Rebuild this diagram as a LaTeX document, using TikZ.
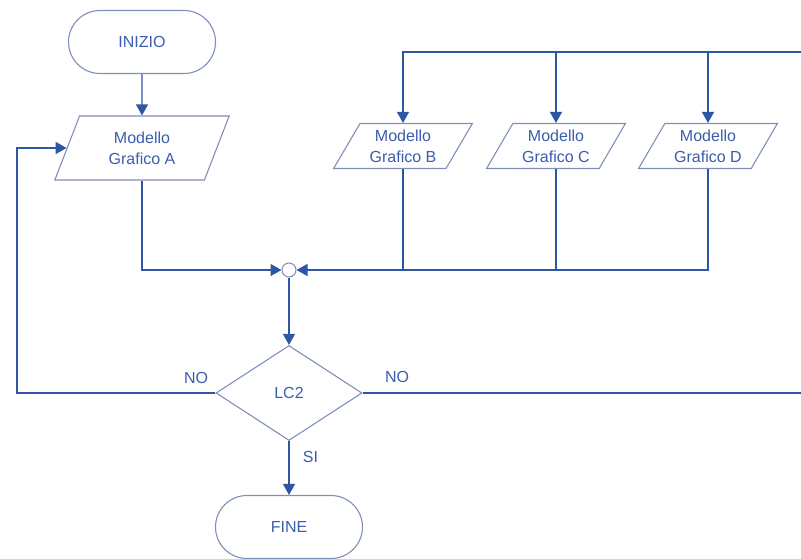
\documentclass[tikz,border=0pt]{standalone}
\usepackage{fontspec}
\setmainfont{Liberation Sans}
\usepackage{tikz}
\usetikzlibrary{arrows.meta,positioning,shapes.geometric,shapes.misc,calc}
\definecolor{fcline}{HTML}{2F55A5}
\definecolor{fcedge}{HTML}{7F8FB8}
\definecolor{fctext}{HTML}{3A5DAE}

\begin{document}
\begin{tikzpicture}[x=1pt,y=-1pt,>={Triangle[length=11pt,width=12pt]},
    every node/.style={text=fctext,font=\fontsize{16}{21}\selectfont},
    term/.style={rounded rectangle,draw=fcedge,line width=1.1pt,minimum width=147pt,minimum height=63pt,inner sep=0pt},
    datain/.style={trapezium,trapezium stretches=true,draw=fcedge,line width=1.1pt,align=center,inner sep=0pt,
        trapezium left angle=#1,trapezium right angle=180-#1},
    choice/.style={diamond,draw=fcedge,line width=1.1pt,minimum width=146pt,minimum height=95pt,inner sep=0pt},
    link/.style={draw=fcline,line width=1.3pt},
    arr/.style={link,->}]
  \useasboundingbox (0,0) rectangle (801,559);
  % start, models and merge point
  \node[term] (ini) at (142,42) {INIZIO};
  \node[datain=68,minimum width=175pt,minimum height=64pt] (A) at (142,148) {Modello\\Grafico A};
  \foreach \n/\x/\l in {B/403/B,C/556/C,D/708/D}
    \node[datain=58,minimum width=139pt,minimum height=45pt] (\n) at (\x,146) {Modello\\Grafico \l};
  \node[circle,draw=fcedge,line width=1pt,minimum size=14pt,inner sep=0pt] (jn) at (289,270) {};
  \node[choice] (lc) at (289,393) {LC2};
  \node[term] (fine) at (289,527) {FINE};
  \coordinate (rtop) at (801,52);
  \coordinate (rbot) at (801,393);
  \coordinate (lp) at (17,393);

  % connectors
  \draw[arr] (ini) -- (A);
  \draw[arr] (rtop) -| (B);
  \foreach \n in {C,D}
    \draw[arr] (\n |- rtop) -- (\n);
  \draw[arr] (A) |- (jn);
  \draw[arr] (D) |- (jn);
  \foreach \n in {B,C}
    \draw[link] (\n) -- (\n |- jn);
  \draw[arr] (jn) -- (lc);
  \draw[arr] (lc) -- node[pos=0.3,right=10pt] {SI} (fine);
  \draw[arr] (lc.west) -- (lp) |- (A.left side);
  \draw[link] (lc.east) -- (rbot);
  \node (nol) at (196,378) {NO};
  \node (nor) at (397,377) {NO};
\end{tikzpicture}
\end{document}
